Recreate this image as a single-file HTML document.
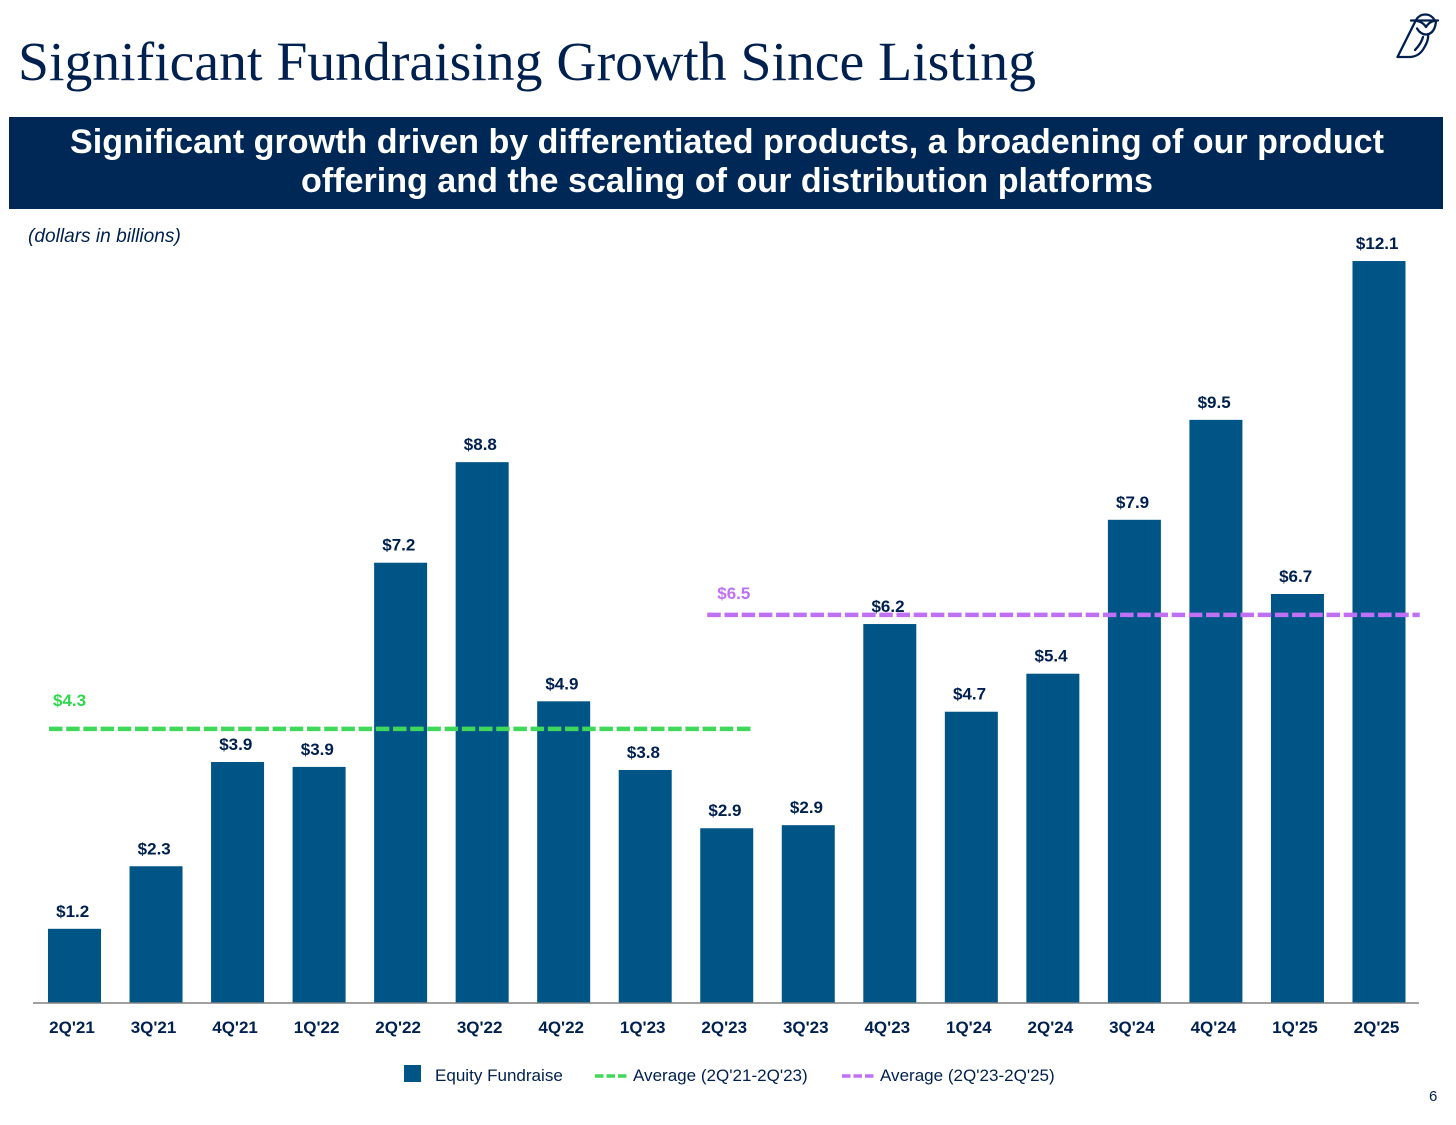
<!DOCTYPE html>
<html lang="en">
<head>
<meta charset="utf-8">
<title>Significant Fundraising Growth Since Listing</title>
<style>
html,body{margin:0;padding:0;background:#fff;}
body{width:1456px;height:1125px;overflow:hidden;}
svg{display:block;font-family:"Liberation Sans",Arial,sans-serif;}
</style>
</head>
<body>
<svg id="slide" width="1456" height="1125" viewBox="0 0 1456 1125" xmlns="http://www.w3.org/2000/svg">
  <text x="18" y="80" font-family="'Liberation Serif',serif" font-size="55" fill="#00204f" textLength="1018" lengthAdjust="spacingAndGlyphs">Significant Fundraising Growth Since Listing</text>
  <g fill="none" stroke="#00204f" stroke-width="2.300" stroke-linecap="round" stroke-linejoin="round">
    <path d="M1411 20.500 H1438"/>
    <path d="M1416 20 A10.500 10.500 0 0 1 1434.500 20"/>
    <path d="M1417 28.500 Q1421 35 1427 34.500 Q1435 33 1436 21"/>
    <path d="M1417 21 Q1423 22 1426 27 Q1429 22 1434 21"/>
    <path d="M1415 22 L1397.500 57 H1409 Q1419 57 1424 48 Q1429 40 1428 34"/>
    <path d="M1415 50 Q1421 44 1423 37"/>
  </g>
  <rect x="9" y="117" width="1434" height="92" fill="#002856"/>
  <text x="727" y="153" text-anchor="middle" font-size="34.100" font-weight="700" fill="#fff">Significant growth driven by differentiated products, a broadening of our product</text>
  <text x="727" y="192" text-anchor="middle" font-size="34.100" font-weight="700" fill="#fff">offering and the scaling of our distribution platforms</text>
  <text x="28" y="242" font-size="19.100" font-style="italic" fill="#00204f">(dollars in billions)</text>

  <g id="bars"></g>
  <line x1="33" x2="1419" y1="1003" y2="1003" stroke="#808080" stroke-width="1.500"/>
  <g id="ticks"></g>
  <g id="averages"></g>
  <g id="labels"></g>

  <g font-size="17.050" fill="#00204f">
    <rect x="404" y="1065" width="17" height="17" fill="#005587"/>
    <text x="435" y="1081">Equity Fundraise</text>
    <line x1="595" x2="627" y1="1076" y2="1076" stroke="#3fd85a" stroke-width="3.500" stroke-dasharray="8.500 3"/>
    <text x="633" y="1081">Average (2Q'21-2Q'23)</text>
    <line x1="842" x2="874" y1="1076" y2="1076" stroke="#bf70f5" stroke-width="3.500" stroke-dasharray="8.500 3"/>
    <text x="880" y="1081">Average (2Q'23-2Q'25)</text>
  </g>
  <text x="1429" y="1101" font-size="15" fill="#00204f">6</text>
</svg>
<script>
var categories = ["2Q'21","3Q'21","4Q'21","1Q'22","2Q'22","3Q'22","4Q'22","1Q'23","2Q'23","3Q'23","4Q'23","1Q'24","2Q'24","3Q'24","4Q'24","1Q'25","2Q'25"];
var equityValues = [1.21,2.23,3.93,3.85,7.18,8.82,4.92,3.80,2.85,2.90,6.18,4.75,5.37,7.88,9.51,6.67,12.10];
var valueLabels = ["$1.2","$2.3","$3.9","$3.9","$7.2","$8.8","$4.9","$3.8","$2.9","$2.9","$6.2","$4.7","$5.4","$7.9","$9.5","$6.7","$12.1"];
var averageValues = [4.47,6.33];
var averageLabels = ["$4.3","$6.5"];
var averageStartCategory = [0,8.074];
var averageEndCategory = [8.3,16.5];

var NS = 'http://www.w3.org/2000/svg';
var baseY = 1003, pxPerUnit = 61.32, firstCenter = 74.5, step = 81.53, barWidth = 53;
function yScale(v){ return baseY - v * pxPerUnit; }
function xScale(i){ return firstCenter + i * step; }
function make(tag, attrs, parent, text){
  var el = document.createElementNS(NS, tag);
  for (var k in attrs) el.setAttribute(k, attrs[k]);
  if (text !== undefined) el.textContent = text;
  parent.appendChild(el);
  return el;
}
var barsG = document.getElementById('bars');
var ticksG = document.getElementById('ticks');
var labelsG = document.getElementById('labels');
var avgG = document.getElementById('averages');

categories.forEach(function(cat, i){
  var top = yScale(equityValues[i]);
  var bar = make('rect', {x: xScale(i) - barWidth/2, y: top, width: barWidth, height: baseY - top, fill: '#005587'}, barsG);
  
  

  var tick = make('text', {x: xScale(i) - 2.5, y: 1033, 'text-anchor': 'middle', 'font-size': 17, 'font-weight': 700, fill: '#00204f'}, ticksG, cat);
  
  

  var lab = make('text', {x: xScale(i) - 1.8, y: top - 12, 'text-anchor': 'middle', 'font-size': 17, 'font-weight': 700, fill: '#00204f'}, labelsG, valueLabels[i]);
  
  
});

var avgColors = ['#3fd85a', '#bf70f5'];
var avgLabelColors = ['#2fd84f', '#bf70f5'];
var avgLabelOffsets = [[4, -23], [10, -16]];
averageValues.forEach(function(v, i){
  var x1 = xScale(averageStartCategory[i]) - 25.5;
  var x2 = xScale(averageEndCategory[i]);
  var ln = make('line', {x1: x1, x2: x2, y1: yScale(v), y2: yScale(v), stroke: avgColors[i], 'stroke-width': 4.5, 'stroke-dasharray': '13.500 3.700'}, avgG);
  
  
  var t = make('text', {x: x1 + avgLabelOffsets[i][0], y: yScale(v) + avgLabelOffsets[i][1], 'font-size': 17, 'font-weight': 700, fill: avgLabelColors[i]}, avgG, averageLabels[i]);
  
  
});
</script>
</body>
</html>
